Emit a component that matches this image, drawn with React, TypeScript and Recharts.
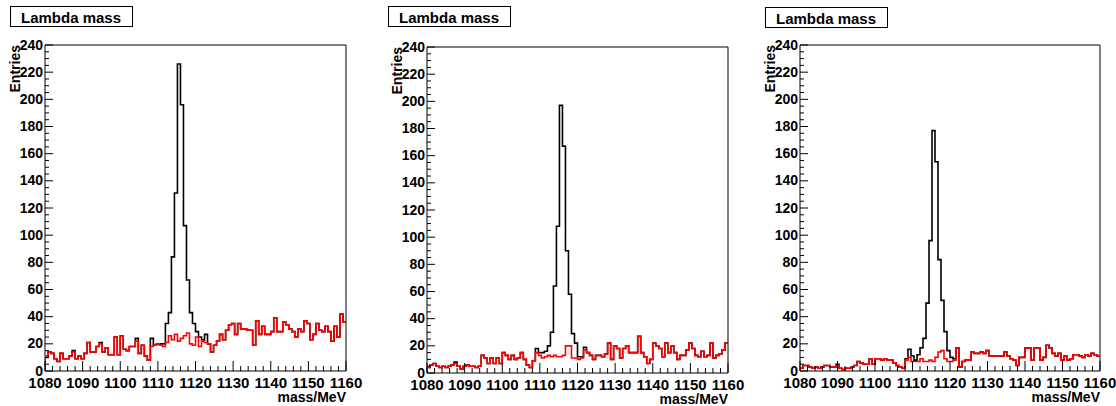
import { LineChart, Line, XAxis, YAxis, ReferenceArea } from "recharts";

// histogram binning: 100 bins of 0.8 MeV
const binStart = 1080;
const binWidth = 0.8;

const xMajorTicks = [1080, 1090, 1100, 1110, 1120, 1130, 1140, 1150, 1160];
const yMajorTicks = [0, 20, 40, 60, 80, 100, 120, 140, 160, 180, 200, 220, 240];

const titles = ["Lambda mass", "Lambda mass", "Lambda mass"];
const xTitle = "mass/MeV";
const yTitle = "Entries";

// red = background, black = total
const panel1Background = [
  11, 14, 13, 9, 7, 13, 9, 9, 11, 14,
  9, 11, 9, 13, 21, 14, 14, 18, 20, 14,
  17, 12, 12, 25, 12, 26, 16, 15, 18, 18,
  22, 13, 19, 11, 8, 18, 19, 20, 19, 18,
  21, 26, 23, 27, 22, 24, 26, 28, 20, 19,
  25, 18, 22, 21, 20, 14, 19, 22, 27, 23,
  30, 34, 35, 27, 35, 31, 31, 30, 30, 19,
  37, 27, 33, 27, 27, 29, 39, 29, 29, 36,
  34, 31, 29, 25, 31, 29, 37, 35, 23, 27,
  35, 30, 29, 33, 29, 22, 33, 25, 42, 36,
];
const panel1Total = [
  10, 14, 13, 9, 7, 13, 9, 9, 11, 15,
  9, 11, 9, 13, 21, 14, 14, 18, 21, 14,
  17, 12, 12, 25, 12, 26, 16, 15, 18, 18,
  24, 13, 19, 11, 8, 24, 19, 20, 20, 20,
  35, 43, 84, 131, 226, 196, 107, 67, 43, 35,
  29, 25, 23, 27, 20, 14, 19, 22, 27, 23,
  30, 34, 35, 27, 35, 31, 31, 30, 30, 19,
  37, 27, 33, 27, 27, 29, 39, 29, 29, 36,
  34, 31, 29, 25, 31, 29, 37, 35, 23, 27,
  35, 30, 29, 33, 29, 22, 33, 25, 42, 36,
];

const panel2Background = [
  4, 6, 7, 5, 4, 5, 4, 5, 6, 7,
  5, 3, 5, 6, 5, 5, 4, 5, 13, 11,
  7, 11, 7, 11, 7, 15, 13, 10, 13, 10,
  11, 15, 10, 6, 4, 9, 15, 13, 11, 12,
  13, 12, 13, 12, 12, 13, 20, 20, 11, 11,
  10, 11, 17, 15, 13, 10, 13, 13, 12, 14,
  22, 10, 20, 18, 11, 18, 20, 15, 15, 15,
  27, 15, 12, 7, 10, 22, 20, 18, 12, 22,
  15, 20, 15, 10, 13, 13, 17, 22, 18, 13,
  12, 16, 12, 13, 22, 11, 13, 14, 17, 22,
];
const panel2Total = [
  4, 6, 7, 5, 4, 5, 4, 5, 6, 8,
  5, 3, 5, 6, 5, 5, 4, 5, 13, 11,
  7, 11, 7, 11, 7, 15, 13, 10, 13, 10,
  11, 15, 10, 6, 4, 9, 18, 15, 15, 16,
  20, 30, 64, 108, 197, 167, 90, 58, 29, 22,
  12, 12, 19, 15, 13, 10, 13, 13, 12, 14,
  22, 10, 20, 18, 11, 18, 20, 15, 15, 15,
  27, 15, 12, 7, 10, 22, 20, 18, 12, 22,
  15, 20, 15, 10, 13, 13, 17, 22, 18, 13,
  12, 16, 12, 13, 22, 11, 13, 14, 17, 22,
];

const panel3Background = [
  2, 4, 4, 3, 2, 3, 2, 3, 4, 4,
  3, 3, 4, 2, 1, 2, 2, 3, 4, 7,
  6, 5, 5, 9, 5, 9, 9, 8, 9, 8,
  8, 6, 4, 3, 2, 8, 10, 7, 7, 7,
  9, 7, 7, 8, 7, 10, 14, 15, 9, 7,
  7, 8, 17, 3, 7, 8, 8, 14, 13, 13,
  14, 13, 15, 11, 11, 11, 11, 11, 14, 11,
  9, 8, 4, 10, 10, 17, 17, 8, 17, 17,
  8, 10, 19, 17, 13, 11, 13, 8, 11, 8,
  9, 12, 12, 11, 10, 12, 11, 13, 12, 11,
];
const panel3Total = [
  2, 4, 4, 3, 2, 3, 2, 3, 4, 4,
  3, 3, 5, 2, 1, 2, 2, 3, 4, 7,
  6, 5, 5, 9, 5, 9, 9, 8, 9, 8,
  8, 6, 4, 3, 2, 9, 16, 11, 8, 12,
  17, 24, 50, 96, 177, 154, 82, 52, 29, 15,
  10, 9, 17, 3, 7, 8, 8, 14, 13, 13,
  14, 13, 15, 11, 11, 11, 11, 11, 14, 11,
  9, 8, 4, 10, 10, 17, 17, 8, 17, 17,
  8, 10, 19, 17, 13, 11, 13, 8, 11, 8,
  9, 12, 12, 11, 10, 12, 11, 13, 12, 11,
];

const series = [
  { total: panel1Total, background: panel1Background },
  { total: panel2Total, background: panel2Background },
  { total: panel3Total, background: panel3Background },
];

// pixel placement of each plot frame and its title box
const layout = [
  { left: 45, top: 45, width: 301, height: 326, boxX: 10, boxY: 6 },
  { left: 427, top: 47, width: 301, height: 326, boxX: 388, boxY: 6 },
  { left: 800, top: 45, width: 300, height: 326, boxX: 765, boxY: 7 },
];

const font = "'Liberation Sans', Arial, Helvetica, sans-serif";

const xTicks: number[] = [];
for (let v = 1080; v <= 1160; v += 2) xTicks.push(v);
const yTicks: number[] = [];
for (let v = 0; v <= 240; v += 5) yTicks.push(v);

function buildRows(total: number[], background: number[]) {
  const rows = [{ x: binStart, total: 0, background: 0 }];
  total.forEach((t, i) => {
    rows.push({ x: binStart + binWidth * i, total: t, background: background[i] });
  });
  rows.push({
    x: binStart + binWidth * total.length,
    total: total[total.length - 1],
    background: background[background.length - 1],
  });
  return rows;
}

function XTick(props: any) {
  const { x, y, payload } = props;
  const major = xMajorTicks.includes(payload.value);
  return (
    <g>
      <line x1={x} x2={x} y1={y} y2={y - (major ? 10 : 5)} stroke="#000" strokeWidth={1} />
      {major && (
        <text x={x} y={y + 17} textAnchor="middle" fontSize={15} fontWeight="bold" fontFamily={font} fill="#000">
          {payload.value}
        </text>
      )}
    </g>
  );
}

function YTick(props: any) {
  const { x, y, payload } = props;
  const major = yMajorTicks.includes(payload.value);
  return (
    <g>
      <line x1={x} x2={x + (major ? 8 : 4)} y1={y} y2={y} stroke="#000" strokeWidth={1} />
      {major && (
        <text x={x - 2} y={y + 4.5} textAnchor="end" fontSize={14} fontWeight="bold" fontFamily={font} fill="#000">
          {payload.value}
        </text>
      )}
    </g>
  );
}

export default function App() {
  return (
    <div style={{ position: "absolute", left: 0, top: 0, width: 1116, height: 406, background: "#fff" }}>
      <svg width={1116} height={406} style={{ position: "absolute", left: 0, top: 0 }}>
        {layout.map((p, i) => (
          <g key={i}>
            <rect x={p.boxX + 0.5} y={p.boxY + 0.5} width={122} height={20} fill="#fff" stroke="#000" strokeWidth={1} />
            <text x={p.boxX + 61} y={p.boxY + 17} textAnchor="middle" fontSize={15} fontWeight="bold" fontFamily={font}>
              {titles[i]}
            </text>
            <text
              transform={`translate(${p.left - 25},${p.top}) rotate(-90)`}
              textAnchor="end"
              fontSize={14}
              fontWeight="bold"
              fontFamily={font}
            >
              {yTitle}
            </text>
            <text x={p.left + p.width} y={p.top + p.height + 31} textAnchor="end" fontSize={14} fontWeight="bold" fontFamily={font}>
              {xTitle}
            </text>
          </g>
        ))}
      </svg>
      {layout.map((p, i) => (
        <div key={i} style={{ position: "absolute", left: p.left - 40, top: p.top - 10 }}>
          <LineChart
            width={40 + p.width + 25}
            height={10 + p.height + 30}
            data={buildRows(series[i].total, series[i].background)}
            margin={{ top: 10, right: 25, left: 0, bottom: 0 }}
          >
            <XAxis
              dataKey="x"
              type="number"
              domain={[1080, 1160]}
              ticks={xTicks}
              interval={0}
              tickSize={0}
              tickMargin={0}
              tickLine={false}
              axisLine={false}
              tick={(props: any) => <XTick {...props} />}
              height={30}
              allowDataOverflow
            />
            <YAxis
              type="number"
              domain={[0, 240]}
              ticks={yTicks}
              interval={0}
              tickSize={0}
              tickMargin={0}
              tickLine={false}
              axisLine={false}
              tick={(props: any) => <YTick {...props} />}
              width={40}
              allowDataOverflow
            />
            <ReferenceArea x1={1080} x2={1160} y1={0} y2={240} fill="none" stroke="#000" strokeWidth={1} ifOverflow="visible" />
            <Line type="stepAfter" dataKey="total" stroke="#000" strokeWidth={1.6} dot={false} isAnimationActive={false} />
            <Line type="stepAfter" dataKey="background" stroke="#ff0000" strokeWidth={1.6} dot={false} isAnimationActive={false} />
          </LineChart>
        </div>
      ))}
    </div>
  );
}
